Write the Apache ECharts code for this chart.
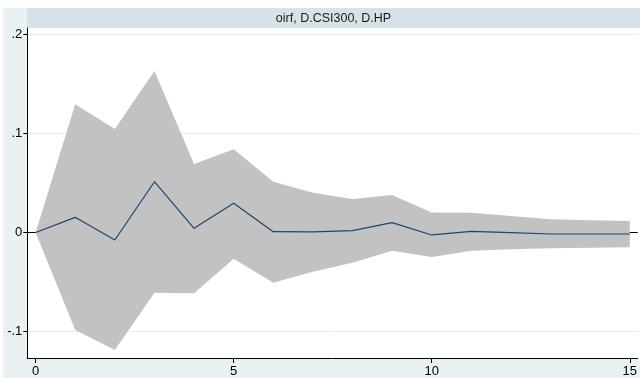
<!DOCTYPE html>
<html>
<head>
<meta charset="utf-8">
<script src="https://cdn.jsdelivr.net/npm/echarts@6/dist/echarts.min.js"></script>
<style>
  html, body { margin: 0; padding: 0; background: #ffffff; }
  #chart { width: 640px; height: 378px; }
</style>
</head>
<body>
<div id="chart"></div>
<script>
// Orthogonalized impulse response: impulse D.CSI300, response D.HP
const steps = [0, 1, 2, 3, 4, 5, 6, 7, 8, 9, 10, 11, 12, 13, 14, 15];
const irf   = [0, 0.0153, -0.0076, 0.0513, 0.0042, 0.0295, 0.0008, 0.0006, 0.0018, 0.0099, -0.0025, 0.0012, -0.0002, -0.0015, -0.0015, -0.0015];
const lower = [0, -0.0985, -0.1187, -0.0608, -0.0614, -0.0266, -0.0507, -0.0396, -0.0305, -0.0184, -0.0247, -0.0184, -0.0170, -0.0160, -0.0153, -0.0150];
const upper = [0, 0.1295, 0.1045, 0.1631, 0.0692, 0.0840, 0.0513, 0.0402, 0.0338, 0.0379, 0.0202, 0.0200, 0.0167, 0.0133, 0.0123, 0.0116];

const xTicks = [0, 5, 10, 15];
const yTicks = [-0.1, 0, 0.1, 0.2];
const yTickLabels = ['-.1', '0', '.1', '.2'];
const titleText = 'oirf, D.CSI300, D.HP';

const FONT = '"Liberation Sans", Arial, Helvetica, sans-serif';

// rows: [step, lower, upper]
const bandData = steps.map((s, i) => [s, lower[i], upper[i]]);
const irfData = steps.map((s, i) => [s, irf[i]]);

const gridMarks = yTicks.map(v => ({
  yAxis: v,
  lineStyle: v === 0
    ? { color: '#000000', width: 1, type: 'solid', opacity: 1 }
    : { color: '#e6eef0', width: 1, type: 'solid', opacity: 1 }
}));

// Confidence band as one polygon: upper bound left-to-right, lower bound back.
function renderBand(params, api) {
  if (params.dataIndex !== 0) return null;
  const top = bandData.map(r => api.coord([r[0], r[2]]));
  const bottom = bandData.slice().reverse().map(r => api.coord([r[0], r[1]]));
  return {
    type: 'polygon',
    shape: { points: top.concat(bottom) },
    style: { fill: '#c2c2c2', stroke: null }
  };
}

const chart = echarts.init(document.getElementById('chart'), null, { renderer: 'canvas' });

chart.setOption({
  animation: false,
  backgroundColor: '#ffffff',
  graphic: [
    { type: 'rect', z: -10, shape: { x: 3, y: 8, width: 637, height: 370 }, style: { fill: '#eaf1f3' } },
    { type: 'rect', z: -9, shape: { x: 27, y: 8, width: 613, height: 20 }, style: { fill: '#d6e2e8' } },
    { type: 'rect', z: -9, shape: { x: 27, y: 28, width: 613, height: 330 }, style: { fill: '#ffffff' } },
    {
      type: 'text', z: 10,
      style: {
        x: 333.5, y: 18.5, text: titleText,
        font: '12.5px ' + FONT, fill: '#1a1a1a',
        textAlign: 'center', textVerticalAlign: 'middle'
      }
    }
  ],
  grid: { left: 27.3, right: 0, top: 28, bottom: 20, containLabel: false },
  xAxis: {
    type: 'value',
    min: -0.21,
    max: 15.2,
    axisLine: { show: true, onZero: false, lineStyle: { color: '#000000', width: 1 } },
    axisTick: { show: true, customValues: xTicks, length: 5, lineStyle: { color: '#000000' } },
    axisLabel: {
      show: true, customValues: xTicks, margin: 7,
      fontFamily: FONT, fontSize: 13, color: '#000000'
    },
    splitLine: { show: false }
  },
  yAxis: {
    type: 'value',
    min: -0.1268,
    max: 0.2066,
    axisLine: { show: true, onZero: false, lineStyle: { color: '#000000', width: 1 } },
    axisTick: { show: true, customValues: yTicks, length: 4, lineStyle: { color: '#000000' } },
    axisLabel: {
      show: true, customValues: yTicks, margin: 5,
      fontFamily: FONT, fontSize: 13, color: '#000000',
      formatter: v => {
        const i = yTicks.findIndex(t => Math.abs(t - v) < 1e-9);
        return i >= 0 ? yTickLabels[i] : '';
      }
    },
    splitLine: { show: false }
  },
  series: [
    {
      name: 'reference lines',
      type: 'line',
      z: 0,
      data: irfData,
      symbol: 'none',
      lineStyle: { opacity: 0, width: 0 },
      silent: true,
      markLine: {
        z: 0,
        silent: true,
        symbol: 'none',
        label: { show: false },
        animation: false,
        data: gridMarks
      }
    },
    {
      name: 'band',
      type: 'custom',
      z: 2,
      data: bandData,
      encode: { x: 0, y: [1, 2] },
      renderItem: renderBand,
      silent: true
    },
    {
      name: 'oirf',
      type: 'line',
      z: 3,
      data: irfData,
      symbol: 'none',
      lineStyle: { color: '#1a476f', width: 1.2 },
      silent: true
    }
  ]
});
</script>
</body>
</html>
